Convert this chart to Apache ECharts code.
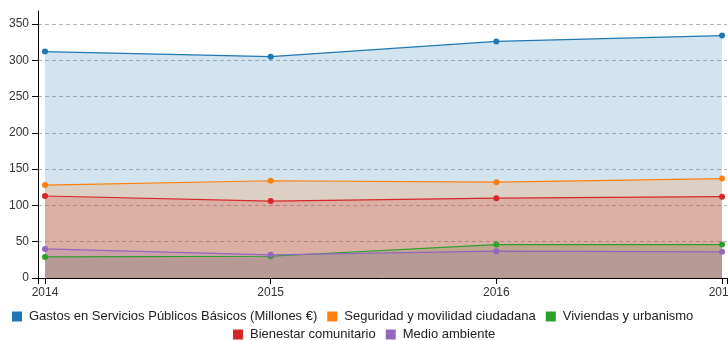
<!DOCTYPE html>
<html>
<head>
<meta charset="utf-8">
<script src="https://cdn.jsdelivr.net/npm/echarts@6/dist/echarts.min.js"></script>
<style>
  html, body { margin: 0; padding: 0; background: #fff; }
  #main { width: 728px; height: 340px; }
</style>
</head>
<body>
<div id="main"></div>
<script>
// datos
var years = [2014, 2015, 2016, 2017]
var yTicks = [0, 50, 100, 150, 200, 250, 300, 350]
var seriesNames = [
  'Gastos en Servicios Públicos Básicos (Millones €)',
  'Seguridad y movilidad ciudadana',
  'Viviendas y urbanismo',
  'Bienestar comunitario',
  'Medio ambiente'
]
var gastos = [312, 305, 326, 334]
var seguridad = [128, 134, 132, 137]
var viviendas = [29, 30, 46, 46]
var bienestar = [113, 106, 110, 112]
var medioAmbiente = [40, 32, 37, 36]
var colors = ['#1f77b4', '#ff7f0e', '#2ca02c', '#d62728', '#9467bd']

var allValues = [gastos, seguridad, viviendas, bienestar, medioAmbiente]

var myChart = echarts.init(document.getElementById('main'))

var series = seriesNames.map(function (name, i) {
  return {
    name: name,
    type: 'line',
    data: years.map(function (y, j) { return [y, allValues[i][j]] }),
    symbol: 'circle',
    symbolSize: 6,
    showSymbol: true,
    lineStyle: { width: 1.2 },
    areaStyle: { opacity: 0.2 },
    itemStyle: { color: colors[i] },
    emphasis: { disabled: true },
    animation: false
  }
})

var legendText = { fontFamily: 'Liberation Sans', fontSize: 13, color: '#222', padding: [0, 0, 0, 2] }

myChart.setOption({
  color: colors,
  grid: { left: 38, right: 1, top: 11, bottom: 62, containLabel: false, outerBoundsMode: 'none' },
  legend: [
    {
      data: seriesNames.slice(0, 3),
      left: 12, top: 310, padding: 0,
      icon: 'rect', itemWidth: 10, itemHeight: 10, itemGap: 10,
      textStyle: legendText,
      selectedMode: false
    },
    {
      data: seriesNames.slice(3),
      left: 233, top: 328, padding: 0,
      icon: 'rect', itemWidth: 10, itemHeight: 10, itemGap: 10,
      textStyle: legendText,
      selectedMode: false
    }
  ],
  xAxis: {
    type: 'value',
    min: 2013.969,
    max: 2017.022,
    axisLine: { lineStyle: { color: '#000', width: 1 } },
    axisTick: { length: 6, lineStyle: { color: '#000' }, customValues: [2013.969].concat(years, [2017.022]) },
    axisLabel: {
      customValues: years,
      formatter: function (v) { return String(v) },
      fontFamily: 'Liberation Sans', fontSize: 12, color: '#333', margin: 9
    },
    splitLine: { show: false }
  },
  yAxis: {
    type: 'value',
    min: 0,
    max: 367.9,
    axisLine: { show: true, lineStyle: { color: '#000', width: 1 } },
    axisTick: { show: true, length: 6, lineStyle: { color: '#000' }, customValues: yTicks },
    axisLabel: {
      customValues: yTicks,
      fontFamily: 'Liberation Sans', fontSize: 12, color: '#333', margin: 9
    },
    splitLine: { show: true, lineStyle: { color: '#b4b4b4', type: [4, 3], width: 1 } }
  },
  series: series
})

window.addEventListener('resize', function () {
  myChart.resize()
})
</script>
</body>
</html>
